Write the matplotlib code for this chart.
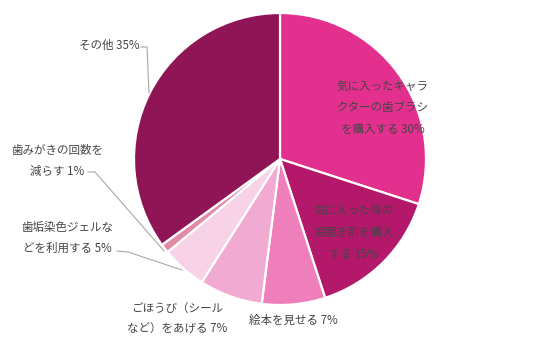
import matplotlib
matplotlib.use("Agg")
import matplotlib.pyplot as plt

plt.rcParams["font.family"] = ["Noto Sans CJK JP", "DejaVu Sans"]

# Shares, in pie order (clockwise from 12 o'clock)
labels = [
    "気に入ったキャラ\nクターの歯ブラシ\nを購入する 30%",
    "気に入った味の\n歯磨き剤を購入\nする 15%",
    "絵本を見せる 7%",
    "ごほうび（シール\nなど）をあげる 7%",
    "歯垢染色ジェルな\nどを利用する 5%",
    "歯みがきの回数を\n減らす 1%",
    "その他 35%",
]
values = [30, 15, 7, 7, 5, 1, 35]
colors = ["#e3308f", "#b3186b", "#ee7fbb", "#f1aad2", "#f8d2e6", "#e38aa6", "#901556"]

W, H = 559, 339
fig = plt.figure(figsize=(W / 100, H / 100), dpi=100)
ax = fig.add_axes([0, 0, 1, 1])


def py(y):
    # pixel row (from top) -> data y
    return H - y


ax.pie(values, colors=colors, startangle=90, counterclock=False,
       center=(280, py(159)), radius=146, frame=True,
       wedgeprops=dict(edgecolor="white", linewidth=1.6))
ax.set_xlim(0, W)
ax.set_ylim(0, H)
ax.set_aspect("equal")
ax.axis("off")

# Label placement (x center, y center) in pixels
label_pos = [
    (383, 108), (354, 232), (293, 320), (177, 319),
    (67, 238), (57, 161), (109, 45),
]
txt_color = "#454545"
for text, (x, y) in zip(labels, label_pos):
    ax.text(x, py(y), text, ha="center", va="center", fontsize=8.3,
            color=txt_color, linespacing=1.85)

# Leader lines for the small outer labels
leaders = [
    [(141, 47), (147, 47), (149, 93)],
    [(88, 172), (95, 172), (164, 251)],
    [(117, 251), (128, 252), (182, 270)],
]
for pts in leaders:
    xs = [p[0] for p in pts]
    ys = [py(p[1]) for p in pts]
    ax.plot(xs, ys, color="#a8a8a8", linewidth=0.8)

fig.savefig("out.png", dpi=100)
